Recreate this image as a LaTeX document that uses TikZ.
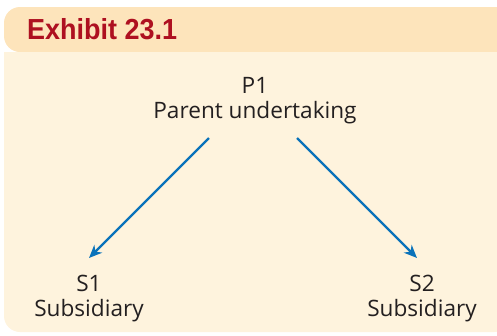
\documentclass[tikz,border=0pt]{standalone}
\usepackage{fontspec}
\setmainfont{Open Sans}
\newfontfamily\titlefont[FakeStretch=0.93]{Liberation Sans}
\usetikzlibrary{arrows.meta}
\definecolor{hdrfill}{HTML}{FDE4BB}
\definecolor{bodyfill}{HTML}{FEF3DD}
\definecolor{titlered}{HTML}{AE1020}
\definecolor{arrblue}{HTML}{0A72BA}
\definecolor{txt}{HTML}{231F20}
\tikzset{
  lbl/.style={align=center, text=txt, font=\fontsize{22.6}{25}\selectfont, inner sep=0pt},
  arr/.style={draw=arrblue, line width=2.4pt, -{Stealth[length=13pt,width=11pt,inset=4pt]}},
}
\begin{document}
\begin{tikzpicture}[x=1pt,y=-1pt]
\useasboundingbox (0,0) rectangle (497,335);
% header band
\fill[hdrfill, rounded corners=16pt] (4,7) rectangle (520,52);
% body panel
\fill[bodyfill, rounded corners=16pt] (4,52) -- (4,332) -- (510,332) -- (510,52) -- cycle;
\fill[bodyfill] (4,52) rectangle (497,80);
\node[anchor=base west, inner sep=0pt, text=titlered, font=\titlefont\bfseries\fontsize{29}{30}\selectfont] (title) at (27,39) {Exhibit 23.1};
\node[lbl, anchor=base] (p1) at (255,93) {P1};
\node[lbl, anchor=base] (p1b) at (255,118) {Parent undertaking};
\node[lbl, anchor=base] (s1) at (89,291) {S1};
\node[lbl, anchor=base] (s1b) at (89,316) {Subsidiary};
\node[lbl, anchor=base] (s2) at (422,291) {S2};
\node[lbl, anchor=base] (s2b) at (422,316) {Subsidiary};
\coordinate (la) at (209,138);
\coordinate (lb) at (89,258);
\coordinate (ra) at (297,138);
\coordinate (rb) at (417,258);
\draw[arr] (la) -- (lb);
\draw[arr] (ra) -- (rb);
\end{tikzpicture}
\end{document}
